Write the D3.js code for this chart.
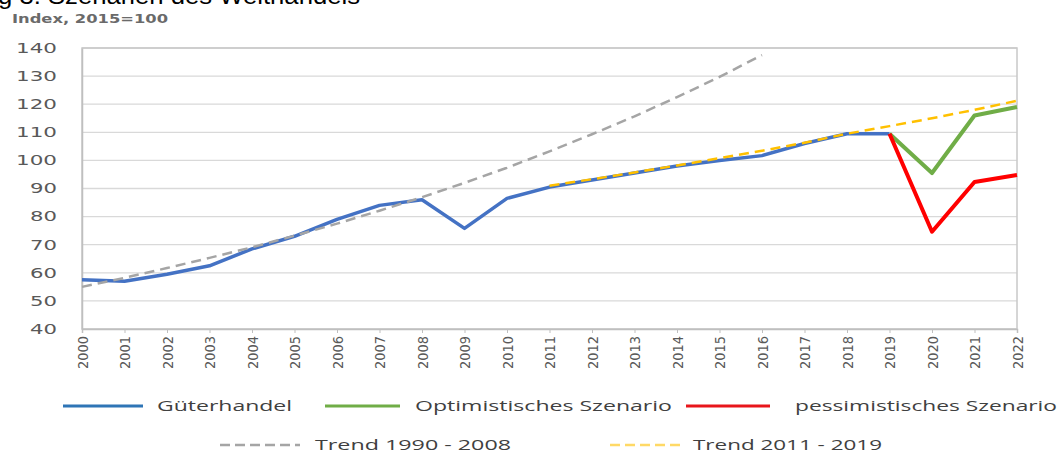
<!DOCTYPE html>
<html>
<head>
<meta charset="utf-8">
<script src="https://cdn.jsdelivr.net/npm/d3@7"></script>
<style>
  body { margin: 0; background: #fff; }
  svg { display: block; }
</style>
</head>
<body>
<div id="chart"></div>
<script>
// Data
const years = d3.range(2000, 2023);
const yTicks = [40, 50, 60, 70, 80, 90, 100, 110, 120, 130, 140];

const gueterYears = d3.range(2000, 2020);
const gueterhandel = [57.5, 57, 59.5, 62.5, 68.5, 73, 79, 84, 86, 75.8,
                      86.5, 90.5, 93, 95.5, 98, 100, 101.7, 106, 109.5, 109.5];

const scenarioYears = [2019, 2020, 2021, 2022];
const optimistisch = [109.5, 95.5, 116, 119];
const pessimistisch = [109.5, 74.6, 92.3, 94.8];

const trend1Years = d3.range(2000, 2017);
const trend1990 = [55, 58.2, 61.7, 65.3, 69.1, 73.2, 77.5, 82.1, 86.9, 92.0,
                   97.4, 103.2, 109.3, 115.7, 122.5, 129.7, 137.5];

const trend2Years = d3.range(2011, 2023);
const trend2011 = [91, 93.3, 95.7, 98.2, 100.8, 103.4, 106.3, 109.5, 112.2, 115, 118, 121.2];

const width = 1062, height = 454;
const plot = {left: 82, right: 1017, top: 48, bottom: 329};

const svg = d3.select("#chart")
              .append("svg")
              .attr("width", width)
              .attr("height", height)
              .style("font-family", "'DejaVu Sans', sans-serif");

const x = d3.scaleLinear()
            .domain([2000, 2022])
            .range([plot.left, plot.right]);

const y = d3.scaleLinear()
            .domain([40, 140])
            .range([plot.bottom, plot.top]);

// cut-off heading at the very top
svg.append("text")
   .attr("x", -2)
   .attr("y", 4)
   .attr("font-family", "'Liberation Sans', Arial, sans-serif")
   .attr("font-size", 24)
   .attr("fill", "#000")
   .attr("textLength", 362)
   .attr("lengthAdjust", "spacingAndGlyphs")
   .text("g 3: Szenarien des Welthandels");

svg.append("text")
   .attr("x", 12)
   .attr("y", 23)
   .attr("font-size", 11.5)
   .attr("font-weight", "bold")
   .attr("fill", "#6a6a6a")
   .attr("textLength", 156)
   .attr("lengthAdjust", "spacingAndGlyphs")
   .text("Index, 2015=100");

// grid lines
svg.append("g")
   .selectAll("line")
   .data(yTicks)
   .enter()
   .append("line")
   .attr("x1", plot.left)
   .attr("x2", plot.right)
   .attr("y1", d => y(d))
   .attr("y2", d => y(d))
   .attr("stroke", "#d9d9d9")
   .attr("stroke-width", 1.3);

// plot frame
svg.append("rect")
   .attr("x", plot.left)
   .attr("y", plot.top)
   .attr("width", plot.right - plot.left)
   .attr("height", plot.bottom - plot.top)
   .attr("fill", "none")
   .attr("stroke", "#c8c8c8")
   .attr("stroke-width", 1.5);

// y axis
const yAxis = svg.append("g")
   .attr("transform", `translate(${plot.left},0)`)
   .call(d3.axisLeft(y).tickValues(yTicks).tickSize(0).tickPadding(25));
yAxis.select(".domain").attr("stroke", "#bfbfbf").attr("stroke-width", 1.5);
yAxis.selectAll("text")
     .attr("font-size", 13.5)
     .attr("font-family", "'DejaVu Sans', sans-serif")
     .attr("fill", "#595959")
     .attr("textLength", d => d >= 100 ? 41 : 27)
     .attr("lengthAdjust", "spacingAndGlyphs");

// x axis
const xAxis = svg.append("g")
   .attr("transform", `translate(0,${plot.bottom})`)
   .call(d3.axisBottom(x).tickValues(years).tickFormat(d3.format("d")).tickSize(4).tickPadding(4));
xAxis.select(".domain").attr("stroke", "#bfbfbf").attr("stroke-width", 1.5);
xAxis.selectAll(".tick line").attr("stroke", "#bfbfbf");
xAxis.selectAll("text")
     .attr("font-size", 14.5)
     .attr("font-family", "'DejaVu Sans', sans-serif")
     .attr("fill", "#595959")
     .attr("transform", "rotate(-90)")
     .attr("text-anchor", "end")
     .attr("x", -7)
     .attr("y", 0)
     .attr("dy", "0.35em")
     .attr("textLength", 33)
     .attr("lengthAdjust", "spacingAndGlyphs");

const line = d3.line().x(d => x(d[0])).y(d => y(d[1]));

function drawSeries(xs, vals, color, w, dash) {
  svg.append("path")
     .datum(xs.map((v, i) => [v, vals[i]]))
     .attr("d", line)
     .attr("fill", "none")
     .attr("stroke", color)
     .attr("stroke-width", w)
     .attr("stroke-linejoin", "round")
     .attr("stroke-dasharray", dash || null);
}

drawSeries(gueterYears, gueterhandel, "#4472c4", 3.5);
drawSeries(scenarioYears, optimistisch, "#70ad47", 4);
drawSeries(scenarioYears, pessimistisch, "#ff0000", 4);
drawSeries(trend1Years, trend1990, "#a5a5a5", 2.5, "10,6");
drawSeries(trend2Years, trend2011, "#ffc000", 2.5, "10,6");

// legend
const legendItems = [
  {label: "Güterhandel", color: "#2e75b6", dash: null, x1: 63, x2: 143, tx: 157, ty: 406, len: 135},
  {label: "Optimistisches Szenario", color: "#70ad47", dash: null, x1: 325, x2: 400, tx: 415, ty: 406, len: 257},
  {label: "pessimistisches Szenario", color: "#e8161b", dash: null, x1: 686, x2: 770, tx: 795, ty: 406, len: 262},
  {label: "Trend 1990 - 2008", color: "#a5a5a5", dash: "10,5", x1: 220, x2: 300, tx: 315, ty: 445, len: 196},
  {label: "Trend 2011 - 2019", color: "#ffd966", dash: "10,5", x1: 610, x2: 680, tx: 693, ty: 445, len: 189}
];

const legend = svg.append("g");
legend.selectAll("line")
      .data(legendItems)
      .enter()
      .append("line")
      .attr("x1", d => d.x1)
      .attr("x2", d => d.x2)
      .attr("y1", d => d.ty)
      .attr("y2", d => d.ty)
      .attr("stroke", d => d.color)
      .attr("stroke-width", d => d.dash ? 2.5 : 3)
      .attr("stroke-dasharray", d => d.dash);

legend.selectAll("text")
      .data(legendItems)
      .enter()
      .append("text")
      .attr("x", d => d.tx)
      .attr("y", d => d.ty)
      .attr("dy", "0.33em")
      .attr("font-family", "'Open Sans', sans-serif")
      .attr("font-size", 15)
      .attr("fill", "#404040")
      .attr("textLength", d => d.len)
      .attr("lengthAdjust", "spacingAndGlyphs")
      .text(d => d.label);
</script>
</body>
</html>
